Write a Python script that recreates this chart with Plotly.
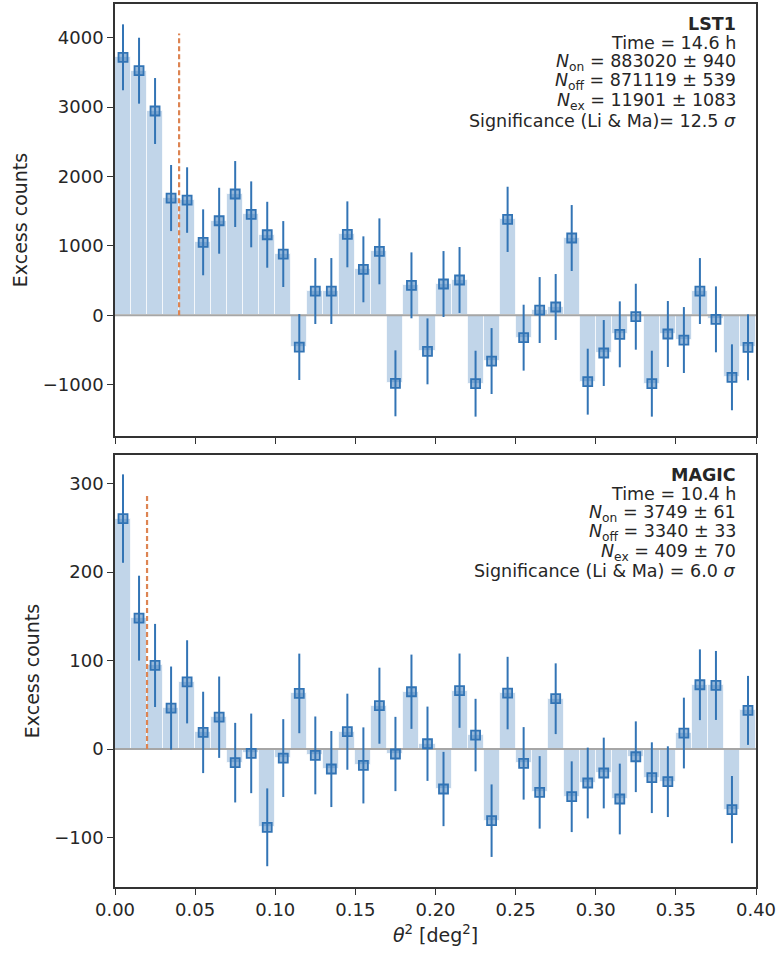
import plotly.graph_objects as go
from plotly.subplots import make_subplots

# ---------------- data ----------------
bin_width = 0.01
theta2_centers = [round(0.005 + 0.01 * i, 3) for i in range(40)]

lst1_excess = [3718, 3525, 2944, 1690, 1661, 1052, 1363, 1748, 1455, 1161,
               883, -457, 350, 350, 1167, 663, 922, -980, 432, -519,
               451, 509, -985, -659, 1383, -322, 76, 120, 1114, -956,
               -543, -274, -20, -985, -269, -356, 350, -58, -893, -461]
lst1_err = [475, 475, 475, 476, 472, 475, 475, 475, 475, 475,
            475, 475, 475, 475, 475, 475, 475, 475, 475, 475,
            475, 475, 475, 475, 470, 475, 475, 475, 475, 475,
            475, 475, 475, 475, 475, 475, 475, 475, 475, 475]

magic_excess = [260.6, 148, 94.5, 46.3, 76, 18.8, 36, -15.4, -4.9, -88.5,
                -10.2, 62.9, -7.2, -22.6, 19.6, -18.5, 49, -5.6, 64.8, 6,
                -45.2, 66, 15.8, -81, 63.3, -16.2, -49, 56.9, -53.9, -38.4,
                -27.1, -56.5, -8.7, -32.4, -36.9, 18.1, 72.7, 71.9, -68.5, 43.7]
magic_err = [50, 48, 47, 47, 47, 46, 46, 45, 45, 44,
             44, 45, 44, 43, 43, 43, 43, 42, 42, 42,
             42, 42, 41, 41, 41, 41, 41, 40, 40, 40,
             40, 40, 40, 40, 40, 40, 40, 39, 38, 39]

lst1_cut = 0.04
lst1_cut_top = 4060
magic_cut = 0.02
magic_cut_top = 286

lst1_text = ["<b>LST1</b>",
             "Time = 14.6 h",
             "<i>N</i><sub>on</sub> = 883020 ± 940",
             "<i>N</i><sub>off</sub> = 871119 ± 539",
             "<i>N</i><sub>ex</sub> = 11901 ± 1083",
             "Significance (Li &amp; Ma)= 12.5 <i>σ</i>"]
magic_text = ["<b>MAGIC</b>",
              "Time = 10.4 h",
              "<i>N</i><sub>on</sub> = 3749 ± 61",
              "<i>N</i><sub>off</sub> = 3340 ± 33",
              "<i>N</i><sub>ex</sub> = 409 ± 70",
              "Significance (Li &amp; Ma) = 6.0 <i>σ</i>"]

lst1_ticks = [-1000, 0, 1000, 2000, 3000, 4000]
magic_ticks = [-100, 0, 100, 200, 300]
x_ticks = [0.0, 0.05, 0.1, 0.15, 0.2, 0.25, 0.3, 0.35, 0.4]
x_ticklabels = ["0.00", "0.05", "0.10", "0.15", "0.20", "0.25", "0.30", "0.35", "0.40"]

# ---------------- style ----------------
BLUE = "rgb(50,116,181)"
BAR = "rgba(50,116,181,0.3)"
MFILL = "rgba(50,116,181,0.5)"
ORANGE = "rgb(221,132,82)"
AX = "#333333"
TXT = "#262626"
FONT = "DejaVu Sans"

fig = make_subplots(rows=2, cols=1, shared_xaxes=True, vertical_spacing=0.0215)

panels = [(1, lst1_excess, lst1_err, lst1_cut, lst1_cut_top),
          (2, magic_excess, magic_err, magic_cut, magic_cut_top)]
for row, vals, errs, cut, cut_top in panels:
    fig.add_trace(go.Bar(x=theta2_centers, y=vals, width=bin_width,
                         marker=dict(color=BAR, line=dict(color="rgba(255,255,255,0.7)", width=1)),
                         showlegend=False), row=row, col=1)
    fig.add_trace(go.Scatter(x=[0, 0.4], y=[0, 0], mode="lines",
                             line=dict(color="#a6a6a6", width=2), showlegend=False),
                  row=row, col=1)
    fig.add_trace(go.Scatter(x=[cut, cut], y=[0, cut_top], mode="lines",
                             line=dict(color=ORANGE, width=2.2, dash="5px,3px"),
                             showlegend=False), row=row, col=1)
    fig.add_trace(go.Scatter(x=theta2_centers, y=vals, mode="markers",
                             marker=dict(symbol="square", size=9, color=MFILL,
                                         line=dict(color=BLUE, width=1.8)),
                             error_y=dict(type="data", array=errs, width=0,
                                          thickness=2, color=BLUE),
                             showlegend=False), row=row, col=1)

axis_common = dict(showline=True, mirror=True, linecolor=AX, linewidth=1.5,
                   ticks="outside", ticklen=6, tickwidth=1.25, tickcolor=AX,
                   showgrid=False, zeroline=False, automargin=False,
                   tickfont=dict(family=FONT, size=18, color=TXT))

fig.update_xaxes(range=[0, 0.4], tickvals=x_ticks, ticktext=x_ticklabels, **axis_common)
fig.update_xaxes(showticklabels=False, row=1, col=1)
fig.update_xaxes(title=dict(text="<i>θ</i><sup>2</sup> [deg<sup>2</sup>]",
                            font=dict(family=FONT, size=19, color=TXT), standoff=9),
                 row=2, col=1)
fig.update_yaxes(**axis_common)
fig.update_yaxes(range=[-1739, 4486], tickvals=lst1_ticks,
                 title=dict(text="Excess counts", font=dict(family=FONT, size=19, color=TXT),
                            standoff=10), row=1, col=1)
fig.update_yaxes(range=[-156, 332.5], tickvals=magic_ticks,
                 title=dict(text="Excess counts", font=dict(family=FONT, size=19, color=TXT),
                            standoff=10), row=2, col=1)

annotations = []
for yref, lines in [("y domain", lst1_text), ("y2 domain", magic_text)]:
    xref = "x domain" if yref == "y domain" else "x2 domain"
    for i, t in enumerate(lines):
        baseline = 26.5 + 19.3 * i
        annotations.append(dict(text=t, xref=xref, yref=yref, x=1, y=1,
                                xanchor="right", yanchor="middle",
                                xshift=-19.5, yshift=-(baseline - 6.5),
                                showarrow=False, borderpad=0, align="right",
                                font=dict(family=FONT, size=17.5, color=TXT)))
fig.update_layout(annotations=annotations)

fig.update_layout(width=779, height=956,
                  margin=dict(l=115, r=23, t=4, b=69, autoexpand=False),
                  paper_bgcolor="white", plot_bgcolor="white",
                  bargap=0, barmode="overlay",
                  font=dict(family=FONT, color=TXT))

fig.write_html("out.html", config={"displayModeBar": False},
               post_script="document.body.style.margin='0';document.body.style.overflow='hidden';")
